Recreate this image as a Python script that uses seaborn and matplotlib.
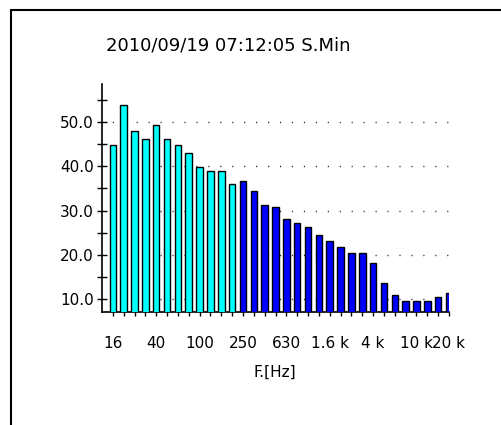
import matplotlib
matplotlib.use("Agg")
import matplotlib.pyplot as plt
import seaborn as sns
import pandas as pd
from matplotlib.lines import Line2D
from matplotlib.ticker import FixedLocator, FixedFormatter

bands = ["16", "20", "25", "31.5", "40", "50", "63", "80", "100", "125", "160", "200",
         "250", "315", "400", "500", "630", "800", "1k", "1.25k", "1.6k", "2k", "2.5k",
         "3.15k", "4k", "5k", "6.3k", "8k", "10k", "12.5k", "16k", "20k"]
levels = [44.8, 53.8, 48.0, 46.2, 49.3, 46.2, 44.8, 43.1, 39.8, 38.9, 38.9, 36.1,
          36.7, 34.4, 31.2, 30.7, 28.1, 27.2, 26.3, 24.5, 23.1, 21.8, 20.5, 20.5,
          18.2, 13.7, 10.9, 9.5, 9.5, 9.5, 10.5, 11.4]
groups = ["low"] * 12 + ["high"] * 20
tick_pos = [0, 4, 8, 12, 16, 20, 24, 28, 31]
tick_labels = ["16", "40", "100", "250", "630", "1.6 k", "4 k", "10 k", "20 k"]
ytick_vals = [10, 20, 30, 40, 50]
ytick_labels = ["10.0", "20.0", "30.0", "40.0", "50.0"]
yminor_vals = [15, 25, 35, 45, 55]
title = "2010/09/19 07:12:05 S.Min"
xlabel = "F.[Hz]"

df = pd.DataFrame({"band": bands, "level": levels, "group": groups})

sns.set_style("white")
plt.rcParams["font.family"] = ["DejaVu Sans"]
plt.rcParams["text.color"] = "black"
plt.rcParams["xtick.color"] = "black"
plt.rcParams["ytick.color"] = "black"
plt.rcParams["xtick.labelcolor"] = "black"
plt.rcParams["ytick.labelcolor"] = "black"

fig = plt.figure(figsize=(5.01, 4.25), dpi=100)
ax = fig.add_axes([102/501, 1-312/425, (449-102)/501, (312-84)/425])

sns.barplot(data=df, x="band", y="level", hue="group", order=bands,
            palette={"low": "#00FFFF", "high": "#0000FF"}, dodge=False,
            saturation=1, width=0.6, edgecolor="black", linewidth=1.0,
            legend=False, ax=ax, zorder=3)

ax.set_xlim(-1, 30.9)
ax.set_ylim(7.06, 58.6)

for v in ytick_vals:
    ax.plot([-1, 30.9], [v, v], color="#222222", lw=1.0,
            linestyle=(1.2, (0.8, 7.8)), zorder=1)

ax.yaxis.set_major_locator(FixedLocator(ytick_vals))
ax.yaxis.set_major_formatter(FixedFormatter(ytick_labels))
ax.yaxis.set_minor_locator(FixedLocator(yminor_vals))
ax.tick_params(axis="y", which="both", left=True, direction="inout", length=7.5,
               width=1.0, color="black", labelsize=11, pad=2, labelcolor="black")

ax.set_xticks(range(len(bands)))
ax.set_xticklabels([""] * len(bands))
ax.tick_params(axis="x", which="major", bottom=True, direction="out", length=3,
               width=1.0, color="black")
for p, lab in zip(tick_pos, tick_labels):
    ax.text(p, -(343 - 312) / 228, lab, transform=ax.get_xaxis_transform(),
            ha="center", va="center", fontsize=11, color="black")

ax.set_xlabel("")
ax.set_ylabel("")
fig.text(275/501, 1 - 372/425, xlabel, ha="center", va="center", fontsize=11,
         color="black")
fig.text(228/501, 1 - 45/425, title, ha="center", va="center", fontsize=13,
         color="black")

for s in ["top", "right"]:
    ax.spines[s].set_visible(False)
for s in ["left", "bottom"]:
    ax.spines[s].set_color("black")
    ax.spines[s].set_linewidth(1.2)

fig.add_artist(Line2D([11/501, 11/501], [0, 1 - 10/425], transform=fig.transFigure,
                      color="black", lw=1.5))
fig.add_artist(Line2D([11/501, 1], [1 - 10/425, 1 - 10/425], transform=fig.transFigure,
                      color="black", lw=1.5))

fig.savefig("out.png", dpi=100)
